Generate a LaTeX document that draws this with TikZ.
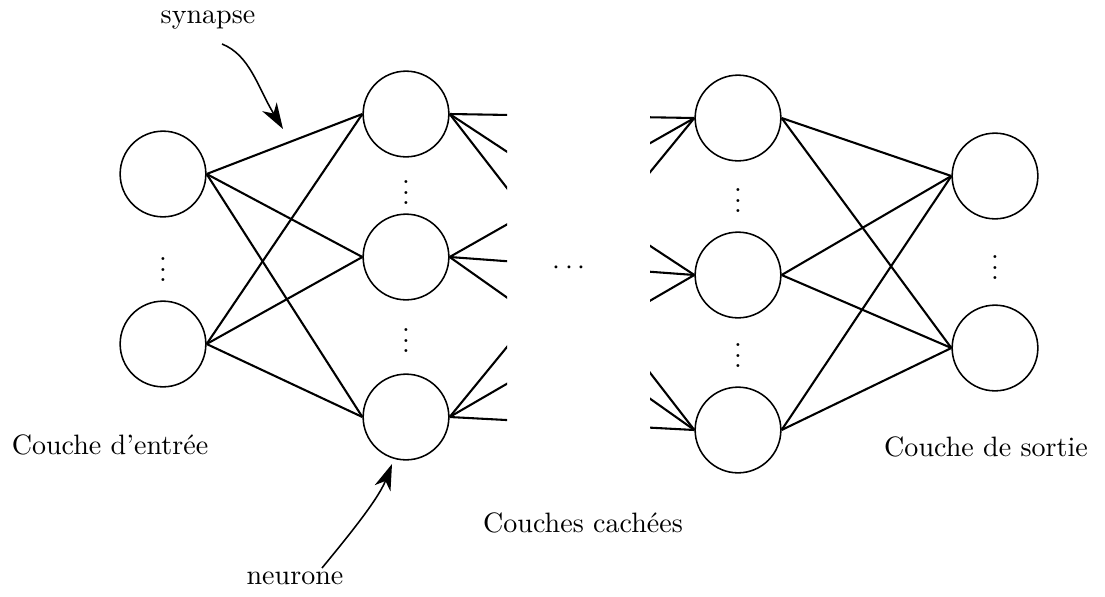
\documentclass[tikz,border=0pt]{standalone}
\usetikzlibrary{arrows.meta}
\begin{document}
\begin{tikzpicture}[x=0.385pt,y=-0.385pt,
  every node/.style={font=\fontsize{10.8pt}{13pt}\selectfont},
  neuron/.style={circle,draw,line width=0.6pt,minimum size=33pt,inner sep=0pt},
  syn/.style={line width=0.8pt},
  lbl/.style={inner sep=0pt},
  pointer/.style={line width=0.6pt,-{Stealth[length=10pt,width=6.5pt,inset=3pt]}}]
\useasboundingbox (0,0) rectangle (1105,596);
% input layer
\node[neuron] (i1) at (163,174) {};
\node[neuron] (i2) at (163,344) {};
% hidden layer 1
\node[neuron] (h1) at (406,114) {};
\node[neuron] (h2) at (406,257) {};
\node[neuron] (h3) at (406,417) {};
% hidden layer 2
\node[neuron] (k1) at (738,118) {};
\node[neuron] (k2) at (738,275) {};
\node[neuron] (k3) at (738,430) {};
% output layer
\node[neuron] (o1) at (995,176) {};
\node[neuron] (o2) at (995,348) {};
% dots
\node[lbl] (d1) at (163,262) {$\vdots$};
\node[lbl] (d2) at (406,185) {$\vdots$};
\node[lbl] (d3) at (406,333) {$\vdots$};
\node[lbl] (d4) at (738,193) {$\vdots$};
\node[lbl] (d5) at (738,348) {$\vdots$};
\node[lbl] (d6) at (995,260) {$\vdots$};
\node[lbl] (dm) at (569,268) {$\cdots$};
% input -> hidden1
\foreach \a in {i1,i2}
  \foreach \b in {h1,h2,h3}
    \draw[syn] (\a.east) -- (\b.west);
% hidden1 -> hidden2 (interrupted)
\begin{scope}
  \clip (0,0) rectangle (507,596);
  \foreach \a in {h1,h2,h3}
    \foreach \b in {k1,k2,k3}
      \draw[syn] (\a.east) -- (\b.west);
\end{scope}
\begin{scope}
  \clip (650,0) rectangle (1105,596);
  \foreach \a in {h1,h2,h3}
    \foreach \b in {k1,k2,k3}
      \draw[syn] (\a.east) -- (\b.west);
\end{scope}
% hidden2 -> output
\foreach \a in {k1,k2,k3}
  \foreach \b in {o1,o2}
    \draw[syn] (\a.east) -- (\b.west);
% labels
\node (tin) at (110,445) {Couche d'entrée};
\node (tout) at (986,447) {Couche de sortie};
\node (thid) at (583,523) {Couches cachées};
\node (tsyn) at (208,20) {synapse};
\node (tneu) at (295,578) {neurone};
\coordinate (ssyn) at (222,44);
\coordinate (psyn) at (283,129);
\coordinate (sneu) at (322,568);
\coordinate (pneu) at (392,464);
\draw[pointer] (ssyn) .. controls (250,55) and (258,88) .. (psyn);
\draw[pointer] (sneu) .. controls (345,540) and (378,500) .. (pneu);
\end{tikzpicture}
\end{document}
